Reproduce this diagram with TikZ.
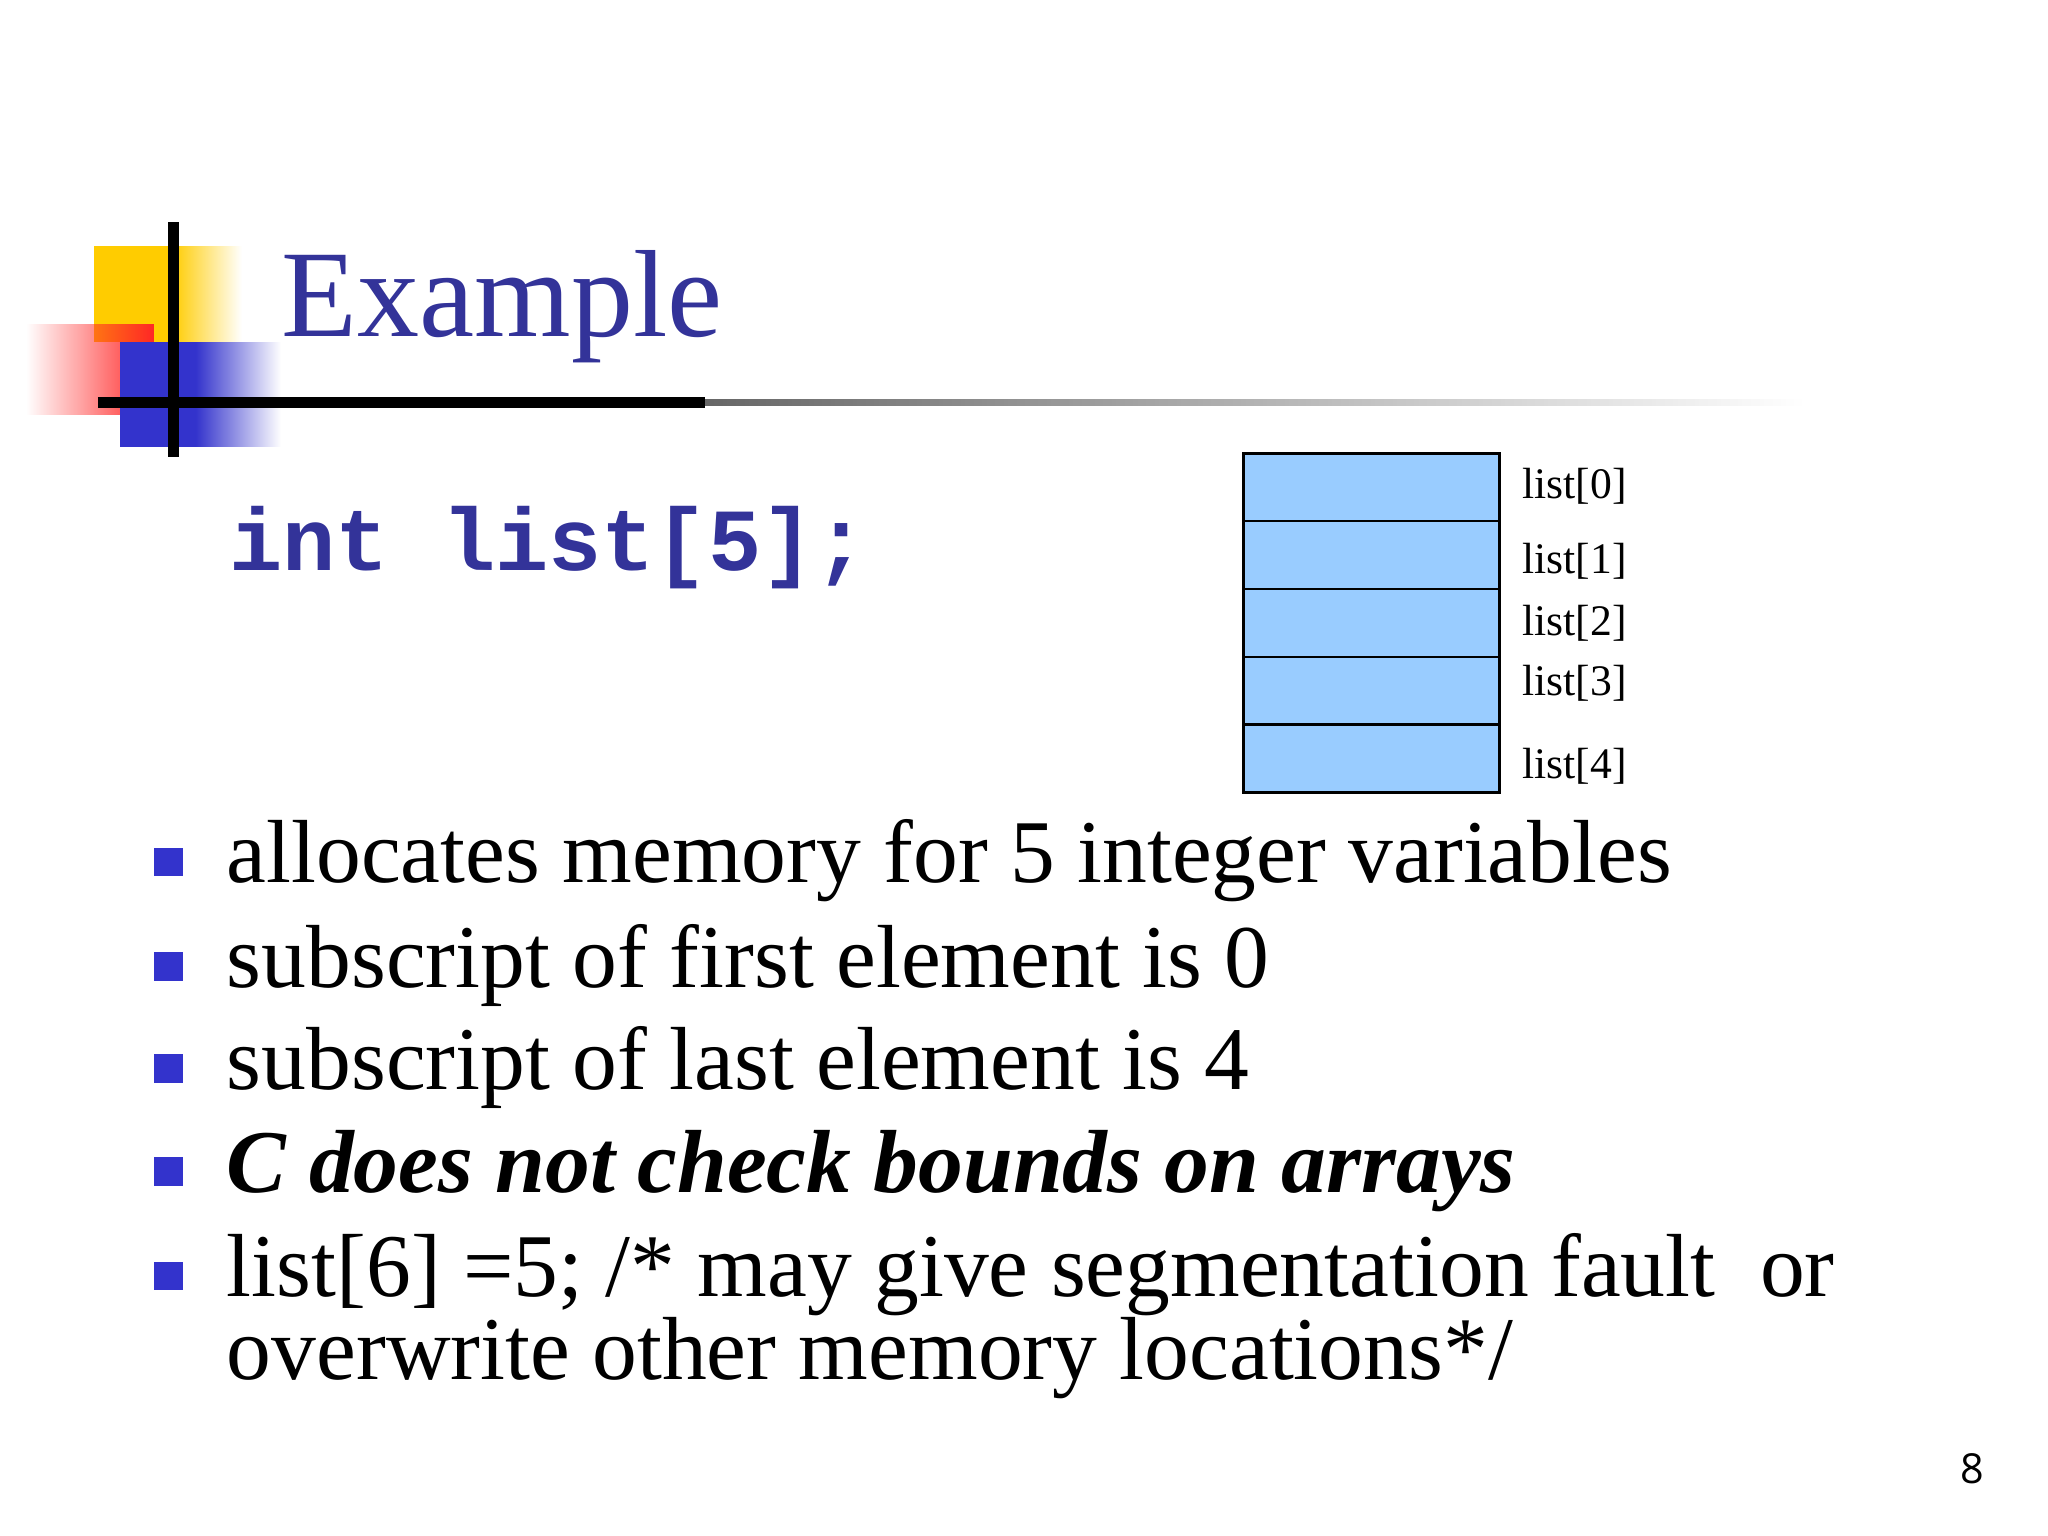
\documentclass[tikz,border=0pt]{standalone}
\usepackage{fontspec}
\setmainfont{Liberation Serif}
\setmonofont{Liberation Mono}
\newfontfamily\numfont{Open Sans}
\usetikzlibrary{fadings}
\definecolor{titleblue}{HTML}{333399}
\definecolor{cellblue}{HTML}{99CCFF}
\definecolor{bulblue}{HTML}{3333CC}
\definecolor{logoyellow}{HTML}{FFCC00}
\tikzset{cell/.style={draw=black,fill=cellblue,line width=0.6pt,minimum width=1.96cm,minimum height=0.52cm,inner sep=0},
lbl/.style={anchor=west,font=\fontsize{9.5pt}{11pt}\selectfont,inner sep=0},
bul/.style={fill=bulblue,minimum size=0.22cm,inner sep=0},
btxt/.style={anchor=base west,font=\fontsize{19.5pt}{18pt}\selectfont,inner sep=0,align=left}}
\begin{document}
\begin{tikzpicture}[x=0.01cm,y=-0.01cm]
\useasboundingbox (0,0) rectangle (1568,1176);
% logo
\fill[logoyellow] (72,188) rectangle (132,262);
\fill[logoyellow,path fading=east] (132,188) rectangle (185,262);
\fill[red!85!white,path fading=west] (20,248) rectangle (118,318);
\fill[bulblue] (92,262) rectangle (150,342);
\fill[bulblue,path fading=east] (150,262) rectangle (215,342);
\draw[line width=2.5pt] (133,170) -- (133,350);
\draw[line width=2.5pt] (75,308) -- (540,308);
\fill[black!60,path fading=east] (540,305.5) rectangle (1380,310.5);
\node[anchor=base west,inner sep=0,text=titleblue,font=\fontsize{27pt}{30pt}\selectfont] (title) at (215,258) {Example};
\node[anchor=base west,inner sep=0,text=titleblue,font=\fontsize{19.3pt}{22pt}\selectfont\ttfamily\bfseries] (code) at (175,437) {int list[5];};
% array
\foreach \i/\y in {0/373,1/425,2/477,3/529,4/581}{
  \node[cell] (c\i) at (1050,\y) {};
}
\node[lbl] (l0) at (1165,372) {list[0]};
\node[lbl] (l1) at (1165,430) {list[1]};
\node[lbl] (l2) at (1165,477) {list[2]};
\node[lbl] (l3) at (1165,523) {list[3]};
\node[lbl] (l4) at (1165,587) {list[4]};
% bullets
\foreach \y in {660,740,818,897,977}{\node[bul] at (129,\y) {};}
\node[btxt] (t1) at (173,676) {allocates memory for 5 integer variables};
\node[btxt] (t2) at (173,756) {subscript of first element is 0};
\node[btxt] (t3) at (173,834) {subscript of last element is 4};
\node[btxt,font=\fontsize{19.5pt}{18pt}\selectfont\bfseries\itshape] (t4) at (173,913) {C does not check bounds on arrays};
\node[btxt] (t5) at (173,993) {list[6] =5; /* may give segmentation fault\ \ or};
\node[btxt] (t6) at (173,1056) {overwrite other memory locations*/};
\node[anchor=base,inner sep=0,font=\numfont\fontsize{9pt}{10pt}\selectfont] (pg) at (1510,1136) {8};
\end{tikzpicture}
\end{document}
